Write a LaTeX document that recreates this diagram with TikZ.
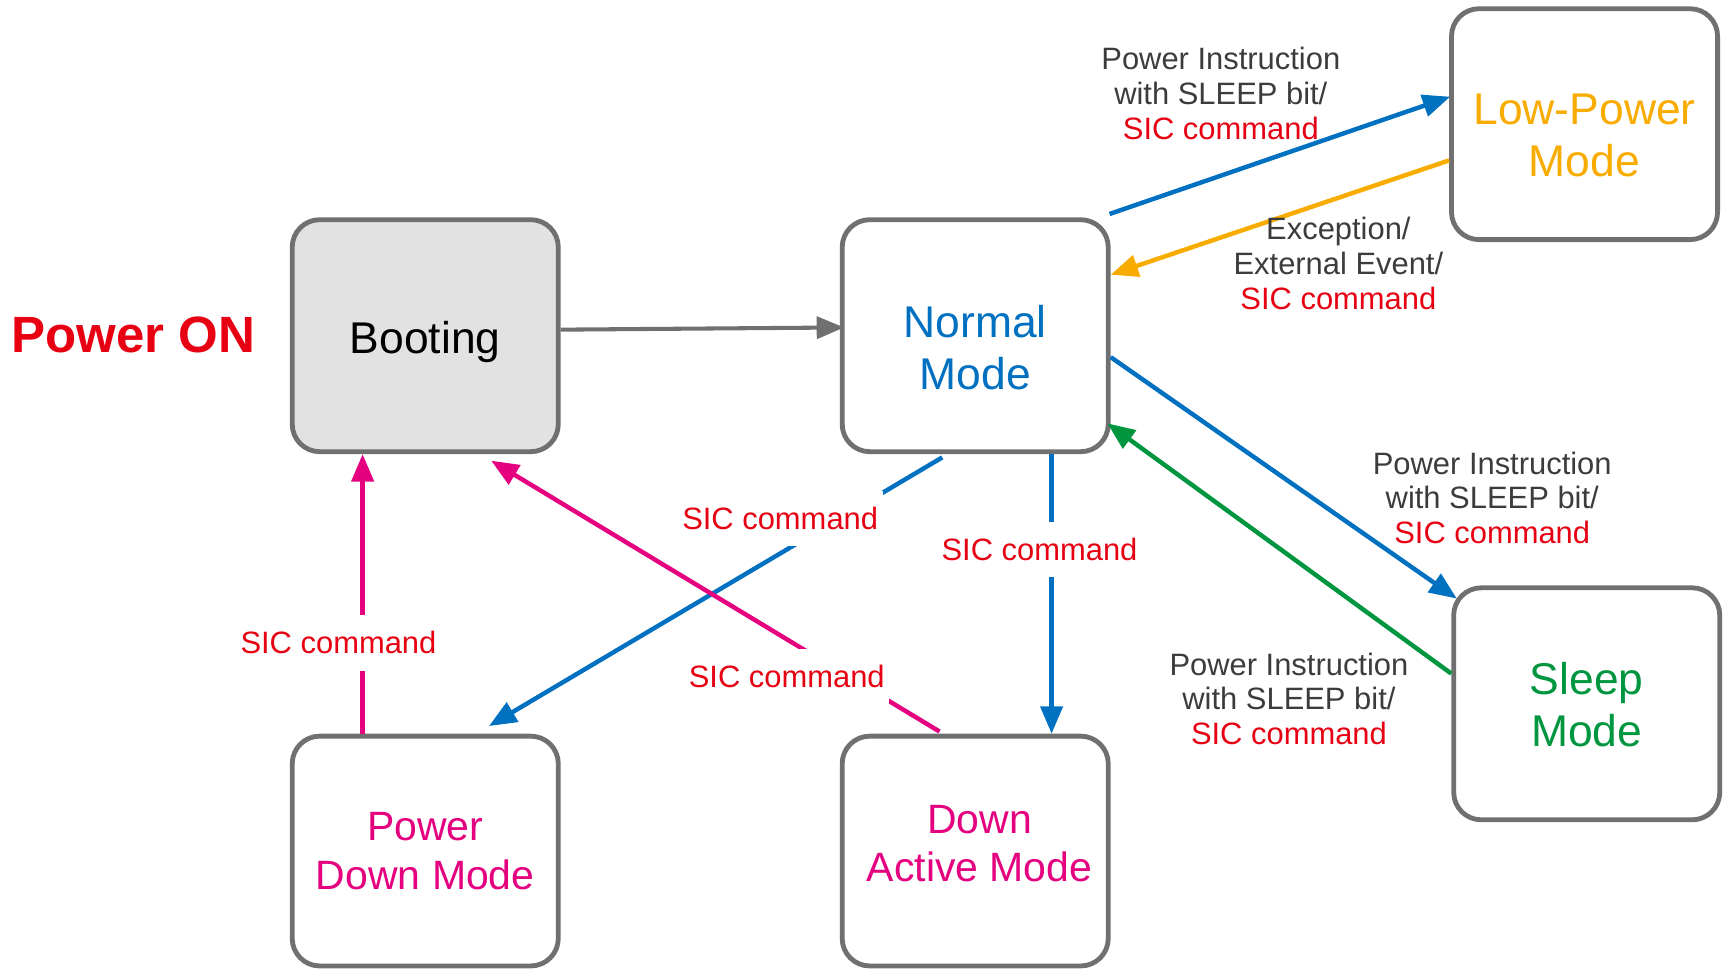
\documentclass[tikz,border=0pt]{standalone}
\usepackage{fontspec}
\setmainfont{Liberation Sans}
\usetikzlibrary{arrows.meta,calc}
\definecolor{cblue}{HTML}{0070C0}
\definecolor{corange}{HTML}{F8AC00}
\definecolor{cgreen}{HTML}{00963F}
\definecolor{cmag}{HTML}{E4007F}
\definecolor{cred}{HTML}{E60012}
\definecolor{cgray}{HTML}{707070}
\definecolor{cfill}{HTML}{E2E2E2}
\definecolor{ctext}{HTML}{3C3C3C}
\begin{document}
\begin{tikzpicture}[x=0.01cm,y=0.01cm,
  box/.style={draw=cgray, line width=1.25pt, rounded corners=0.25cm, minimum width=2.42cm,
    minimum height=2.11cm, inner sep=0pt, fill=white},
  boxtxt/.style={align=center, inner sep=0pt, font=\fontsize{11.5}{13.4}\selectfont},
  magtxt/.style={align=center, inner sep=0pt, text=cmag, font=\fontsize{10.6}{12.5}\selectfont},
  conn/.style={line width=1.15pt, -{Triangle[length=0.25cm,width=0.2cm]}},
  sic/.style={text=cred, fill=white, inner xsep=0.04cm, inner ysep=0.15cm,
    font=\fontsize{8}{9}\selectfont},
  note/.style={text=ctext, align=center, inner sep=0pt, font=\fontsize{8}{9}\selectfont},
]
\useasboundingbox (0,0) rectangle (1568,881);

% boxes
\node[box, fill=cfill, label={[boxtxt, text=black, yshift=-0.06cm]center:Booting}] (boot) at (387,575.5) {};
\node[box, label={[boxtxt, text=cblue, yshift=-0.11cm]center:Normal\\Mode}] (norm) at (887.5,575.5) {};
\node[box, minimum height=2.10cm, label={[boxtxt, text=corange, yshift=-0.10cm]center:Low-Power\\Mode}] (low) at (1442,768) {};
\node[box, label={[boxtxt, text=cgreen, yshift=-0.01cm]center:Sleep\\Mode}] (sleep) at (1444,240.5) {};
\node[box, minimum height=2.09cm, label={[magtxt]center:Power\\Down Mode}] (pdown) at (387,106.5) {};
\node[box, minimum height=2.09cm, label={[magtxt, yshift=0.07cm, xshift=0.04cm]center:Down\\Active Mode}] (dact) at (887.5,106.5) {};

\node[text=cred, font=\fontsize{13.2}{15}\selectfont\bfseries, inner sep=0pt, anchor=west]
  (pon) at (10,576.5) {Power ON};

% connectors
\draw[conn, line width=1.05pt, cgray] ($(boot.east)+(0,5.5)$) -- ($(norm.west)+(4,7.5)$);
\draw[conn, cblue] ($(norm.north east)+(-1,3)$) -- ($(low.west)+(1,25)$);
\draw[conn, corange] ($(low.west)+(0,-33)$) -- ($(norm.east)+(0,55.5)$);
\draw[conn, cblue] ($(norm.east)+(0,-19.5)$) -- ($(sleep.north west)+(5,-12)$);
\draw[conn, cgreen] ($(sleep.west)+(0,27.5)$) -- ($(norm.south east)+(-3,28)$);
\draw[conn, cblue] ($(norm.south)+(-30,-3)$) -- ($(pdown.north)+(58,7)$);
\draw[conn, cblue] ($(norm.south)+(69.5,0)$) -- ($(dact.north)+(69.5,0)$);
\draw[conn, cmag] ($(pdown.north)+(-57,0)$) -- ($(boot.south)+(-57,0)$);
\draw[conn, cmag] ($(dact.north)+(-32.5,2)$) -- ($(boot.south)+(60,-6)$);

% labels on connectors
\node[sic] (l6) at (710,409) {SIC command};
\node[sic] (l7) at (946,381) {SIC command};
\node[sic] (l8) at (308,296) {SIC command};
\node[sic] (l9) at (716,265) {SIC command};

\node[note] (n1) at (1111,796) {Power Instruction\\with SLEEP bit/\\\textcolor{cred}{SIC command}};
\node[note] (n2) at (1218,641) {Exception/\\External Event/\\\textcolor{cred}{SIC command}};
\node[note] (n3) at (1358,428) {Power Instruction\\with SLEEP bit/\\\textcolor{cred}{SIC command}};
\node[note] (n4) at (1173,245) {Power Instruction\\with SLEEP bit/\\\textcolor{cred}{SIC command}};
\end{tikzpicture}
\end{document}
